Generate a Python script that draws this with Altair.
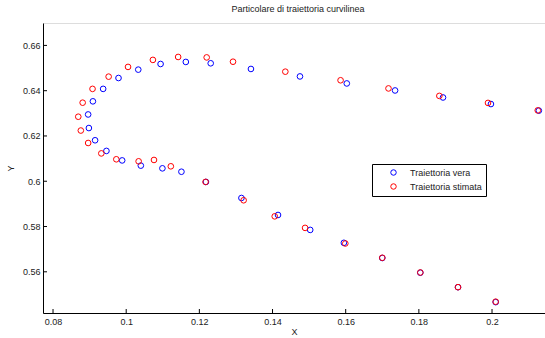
import altair as alt
import pandas as pd

# True trajectory (blue)
true_x = [0.2128, 0.1997, 0.1866, 0.1735, 0.1603, 0.1475, 0.1341, 0.1231, 0.1163, 0.1094,
          0.1033, 0.0979, 0.0937, 0.0909, 0.0896, 0.0898, 0.0915, 0.0946, 0.0989, 0.1040,
          0.1099, 0.1151, 0.1218, 0.1315, 0.1415, 0.1503, 0.1595, 0.1700, 0.1804, 0.1907, 0.2010]
true_y = [0.6312, 0.6341, 0.6370, 0.6401, 0.6432, 0.6463, 0.6496, 0.6521, 0.6527, 0.6518,
          0.6493, 0.6456, 0.6408, 0.6353, 0.6295, 0.6235, 0.6181, 0.6134, 0.6092, 0.6069,
          0.6057, 0.6042, 0.5997, 0.5926, 0.5851, 0.5785, 0.5728, 0.5661, 0.5596, 0.5532, 0.5466]
# Estimated trajectory (red)
est_x = [0.2125, 0.1989, 0.1856, 0.1717, 0.1586, 0.1435, 0.1292, 0.1220, 0.1142, 0.1073,
         0.1005, 0.0952, 0.0908, 0.0881, 0.0869, 0.0876, 0.0896, 0.0932, 0.0973, 0.1034,
         0.1076, 0.1122, 0.1217, 0.1321, 0.1406, 0.1489, 0.1599, 0.1700, 0.1804, 0.1907, 0.2010]
est_y = [0.6313, 0.6346, 0.6377, 0.6410, 0.6446, 0.6484, 0.6528, 0.6547, 0.6549, 0.6536,
         0.6505, 0.6462, 0.6408, 0.6347, 0.6285, 0.6224, 0.6169, 0.6123, 0.6097, 0.6088,
         0.6094, 0.6066, 0.5997, 0.5916, 0.5845, 0.5794, 0.5725, 0.5662, 0.5597, 0.5532, 0.5468]

series_names = ["Traiettoria vera", "Traiettoria stimata"]
x_ticks = [0.08, 0.10, 0.12, 0.14, 0.16, 0.18, 0.20]
y_ticks = [0.56, 0.58, 0.60, 0.62, 0.64, 0.66]

df = pd.DataFrame({
    "x": true_x + est_x,
    "y": true_y + est_y,
    "serie": [series_names[0]] * len(true_x) + [series_names[1]] * len(est_x),
})

FONT = "Liberation Sans"
W, H = 502, 290
xscale = alt.Scale(domain=[0.07726, 0.21448], nice=False, zero=False)
yscale = alt.Scale(domain=[0.5418, 0.6699], nice=False, zero=False)

xaxis = alt.Axis(values=x_ticks, format="~g", grid=False, ticks=False, labelPadding=4,
                 domainColor="black", domainWidth=1, labelColor="#222", labelFont=FONT,
                 labelFontSize=9, titleFont=FONT, titleFontSize=9, titleFontWeight="normal",
                 titleColor="#222", titlePadding=1, labelFlush=False)
yaxis = alt.Axis(values=y_ticks, format="~g", grid=False, ticks=False, labelPadding=3,
                 domainColor="black", domainWidth=1, labelColor="#222", labelFont=FONT,
                 labelFontSize=9, titleFont=FONT, titleFontSize=9, titleFontWeight="normal",
                 titleColor="#222", titlePadding=7, labelFlush=False)

points = alt.Chart(df).mark_point(shape="circle", filled=False, size=32, strokeWidth=1, opacity=1).encode(
    x=alt.X("x:Q", scale=xscale, title="X", axis=xaxis),
    y=alt.Y("y:Q", scale=yscale, title="Y", axis=yaxis),
    color=alt.Color("serie:N", sort=series_names,
                    scale=alt.Scale(domain=series_names, range=["#0000ff", "#ff0000"]),
                    legend=alt.Legend(orient="none", legendX=329, legendY=141, title=None,
                                      strokeColor="black", fillColor="white", padding=4,
                                      symbolType="circle", symbolSize=30, symbolStrokeWidth=1,
                                      labelFont=FONT, labelFontSize=9, labelColor="#222",
                                      symbolOffset=13, labelOffset=12, rowPadding=3,
                                      cornerRadius=0)),
)

xt = pd.DataFrame({"v": x_ticks})
yt = pd.DataFrame({"v": y_ticks})
xtick_layer = alt.Chart(xt).mark_rule(color="black", strokeWidth=1).encode(
    x=alt.X("v:Q", scale=xscale, title="X", axis=xaxis),
    y=alt.value(H), y2=alt.value(H - 4),
)
ytick_layer = alt.Chart(yt).mark_rule(color="black", strokeWidth=1).encode(
    y=alt.Y("v:Q", scale=yscale, title="Y", axis=yaxis),
    x=alt.value(0), x2=alt.value(4),
)

chart = alt.layer(points, xtick_layer, ytick_layer).properties(
    width=W, height=H,
    title=alt.TitleParams("Particolare di traiettoria curvilinea", font=FONT, fontSize=9,
                          fontWeight="normal", color="#222", anchor="middle", offset=9, dx=4),
    autosize=alt.AutoSizeParams(type="none"),
    padding={"left": 43, "top": 23, "right": 0, "bottom": 25},
).configure_view(stroke=None).configure(background="white")

chart.save("out.html", embed_options={"renderer": "svg", "actions": False})
